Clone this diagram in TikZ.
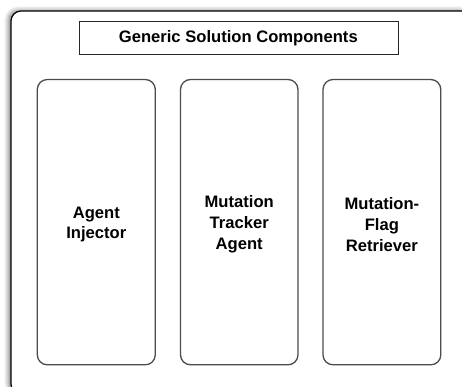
\documentclass[tikz,border=0pt]{standalone}
\usepackage{fontspec}
\setmainfont{Liberation Sans}
\usetikzlibrary{shadows.blur}
\tikzset{
  lbl/.style={font=\fontsize{16.6}{20.9}\selectfont\bfseries, align=center},
  frame/.style={draw=black, line width=1.2pt, rounded corners=10pt, fill=white,
    blur shadow={shadow xshift=-3pt, shadow yshift=1pt, shadow blur radius=4pt, shadow opacity=45}},
  titlebox/.style={draw=black!85, line width=0.9pt},
  compbox/.style={draw=black!70, line width=1.3pt, rounded corners=10pt}
}
\begin{document}
\begin{tikzpicture}[x=1pt, y=-1pt]
  \useasboundingbox (0,0) rectangle (462,386);
  \clip (0,0) rectangle (462,386);
  % outer panel, running past the lower right edge
  \draw[frame] (11,11) rectangle (472,394);
  % heading
  \draw[titlebox] (79,21) rectangle (398.3,54.3);
  \node[lbl] (title) at (238.3,38.3) {Generic Solution Components};
  % three component columns
  \draw[compbox] (37.3,79.5) rectangle (155.3,364.8);
  \draw[compbox] (180.5,79.5) rectangle (298,364.8);
  \draw[compbox] (323,79.5) rectangle (440.8,364.8);
  \node[lbl] (inj) at (96.3,224.5) {Agent\\Injector};
  \node[lbl] (trk) at (239.2,224.5) {Mutation\\Tracker\\Agent};
  \node[lbl] (ret) at (381.9,224.5) {Mutation-\\Flag\\Retriever};
\end{tikzpicture}
\end{document}
